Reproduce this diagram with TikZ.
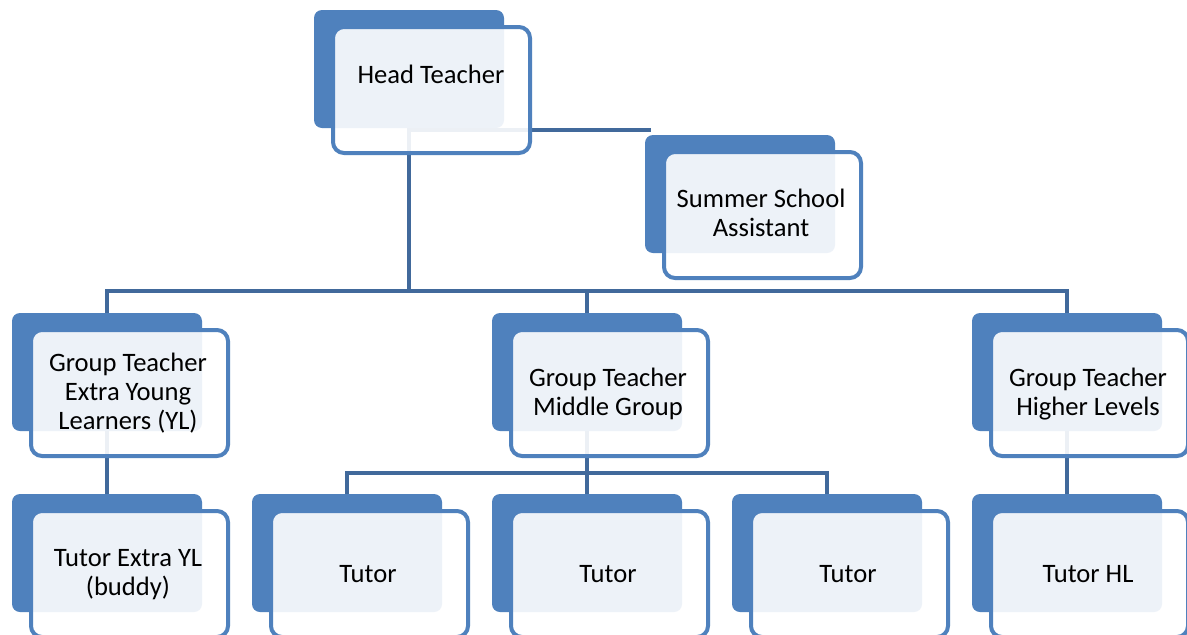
\documentclass[tikz,border=0pt]{standalone}
\usepackage{fontspec}
\setmainfont{Carlito}
\pgfdeclarelayer{canvas}
\pgfdeclarelayer{background}
\pgfsetlayers{canvas,background,main}
\definecolor{acc}{HTML}{4F81BD}
\definecolor{lnk}{HTML}{41699B}
\begin{document}
\begin{tikzpicture}[x=1pt,y=-1pt,
  backbox/.style={fill=acc, rounded corners=8pt, minimum width=190pt, minimum height=118pt, inner sep=0pt, outer sep=0pt},
  frontbox/.style={draw=acc, line width=4pt, fill=white, fill opacity=0.9, rounded corners=11pt, minimum width=197pt, minimum height=126pt, inner sep=0pt},
  lbl/.style={align=center, font=\fontsize{26.6}{29}\selectfont, text=black, inner sep=0pt},
  conn/.style={draw=lnk, line width=4.5pt}]
\useasboundingbox (0,0) rectangle (1187,635);
\begin{pgfonlayer}{canvas}
\fill[white] (0,0) rectangle (1187,635);
\end{pgfonlayer}
\begin{scope}
\clip (0,0) rectangle (1187,635);
% Head Teacher
\node[backbox] (hb) at (409,69) {};
\node[frontbox] (hf) at (431.5,90) {};
\node[lbl] (ht) at (431,77.2) {\strut Head Teacher};
% Assistant
\node[backbox] (ab) at (740,194) {};
\node[frontbox] (af) at (762.5,215) {};
\node[lbl] (at) at (761,216) {\strut Summer School\\\strut Assistant};
% Group teachers
\node[backbox] (g1b) at (107,372) {};
\node[frontbox] (g1f) at (129.5,393) {};
\node[lbl] (g1t) at (128,394.7) {\strut Group Teacher\\\strut Extra Young\\\strut Learners (YL)};
\node[backbox] (g2b) at (587,372) {};
\node[frontbox] (g2f) at (609.5,393) {};
\node[lbl] (g2t) at (608,394.7) {\strut Group Teacher\\\strut Middle Group};
\node[backbox] (g3b) at (1067,372) {};
\node[frontbox] (g3f) at (1089.5,393) {};
\node[lbl] (g3t) at (1088,394.7) {\strut Group Teacher\\\strut Higher Levels};
% Tutors
\node[backbox] (t1b) at (107,553) {};
\node[frontbox] (t1f) at (129.5,574) {};
\node[lbl] (t1t) at (128,575.2) {\strut Tutor Extra YL\\\strut (buddy)};
\node[backbox] (t2b) at (347,553) {};
\node[frontbox] (t2f) at (369.5,574) {};
\node[lbl] (t2t) at (368,576.2) {\strut Tutor};
\node[backbox] (t3b) at (587,553) {};
\node[frontbox] (t3f) at (609.5,574) {};
\node[lbl] (t3t) at (608,576.2) {\strut Tutor};
\node[backbox] (t4b) at (827,553) {};
\node[frontbox] (t4f) at (849.5,574) {};
\node[lbl] (t4t) at (848,576.2) {\strut Tutor};
\node[backbox] (t5b) at (1067,553) {};
\node[frontbox] (t5f) at (1089.5,574) {};
\node[lbl] (t5t) at (1088,576.2) {\strut Tutor HL};
\end{scope}
\coordinate (bus) at (0,291);
\coordinate (bus2) at (0,473);
\coordinate (asy) at (0,130);
\begin{pgfonlayer}{background}
\draw[conn] (hb.center) -- (hb.center |- bus);
\draw[conn] (hb.center |- asy) -- ([xshift=6pt]ab.west |- asy);
\draw[conn] (g1b.center) -- (g1b.center |- bus) -- (g3b.center |- bus) -- (g3b.center);
\draw[conn] (g2b.center) -- (g2b.center |- bus);
\draw[conn] (g1b.center) -- (t1b.center);
\draw[conn] (g3b.center) -- (t5b.center);
\draw[conn] (g2b.center) -- (g2b.center |- bus2);
\draw[conn] (t2b.center) -- (t2b.center |- bus2) -- (t4b.center |- bus2) -- (t4b.center);
\draw[conn] (t3b.center) -- (t3b.center |- bus2);
\end{pgfonlayer}
\end{tikzpicture}
\end{document}
